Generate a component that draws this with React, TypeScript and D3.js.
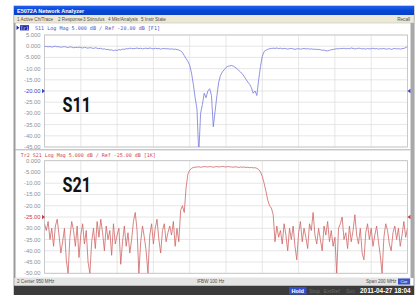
import React from "react";
import * as d3 from "d3";

// Sweep: 850 MHz .. 1050 MHz, 1 MHz per point
const START_MHZ = 850;
const STOP_MHZ = 1050;
const freqTicks = [850, 870, 890, 910, 930, 950, 970, 990, 1010, 1030, 1050];

const s11 = [
  -0.2, -0.1, -0.3, -0.1, -0.4, -0.2, 0.0, -0.3, -0.2, -0.5,
  -0.3, -0.2, -0.4, -0.6, -0.3, -0.4, -0.7, -0.5, -0.6, -0.4,
  -0.6, -0.8, -0.5, -0.7, -0.9, -0.6, -0.8, -1.0, -0.7, -0.9,
  -1.1, -0.9, -1.3, -1.2, -1.5, -1.4, -1.8, -1.6, -2.0, -1.7,
  -1.9, -1.5, -1.7, -1.3, -1.4, -1.1, -1.2, -0.9, -1.0, -1.1,
  -1.0, -0.8, -1.1, -0.9, -1.2, -1.0, -0.9, -1.1, -0.8, -1.0,
  -1.2, -0.9, -1.1, -1.0, -1.3, -1.1, -1.0, -1.2, -1.1, -1.3,
  -1.2, -1.4, -1.3, -1.5,
  -1.7, -2.1, -2.8, -4.2, -5.5, -6.8, -8.5, -12, -17, -23,
  -28, -48, -30, -26, -21, -23, -20, -19, -22, -36,
  -29, -22, -16, -13, -11.5, -10.5, -9.5, -9, -8.8, -8.6,
  -8.9, -9.4, -10, -10.8, -11.5, -12.4, -13.5, -14.8, -16, -17,
  -18.5, -21, -20, -22, -15, -9, -4.5, -2.4, -1.8, -1.4,
  -1.1, -1.0, -0.9, -1.0, -0.8, -1.1, -0.9, -1.2, -1.0, -1.1,
  -1.3, -1.1, -1.0, -1.2, -1.4, -1.2, -1.1, -1.3, -1.2, -1.0,
  -1.2, -1.1, -1.3, -1.2, -1.4, -1.3, -1.5, -1.4, -1.6, -1.8,
  -1.7, -2.0, -2.1, -1.8, -1.6, -1.4, -1.3, -1.1, -1.2, -1.0,
  -1.1, -0.9, -1.2, -1.0, -1.1, -0.8, -1.0, -1.2, -1.1, -0.9,
  -1.0, -1.2, -1.1, -1.3, -1.0, -1.2, -1.1, -0.9, -1.2, -1.0,
  -1.3, -1.1, -1.2, -1.0, -1.3, -1.2, -1.1, -1.4, -1.2, -1.0,
  -1.2, -1.1, -1.3, -1.1, -1.0, -0.6, -0.2,
];

const s21 = [
  -28, -31, -27, -35, -30, -38, -29, -26, -33, -41,
  -36, -30, -44, -50, -34, -27, -31, -38, -29, -43,
  -33, -28, -37, -31, -45, -50, -36, -30, -39, -27,
  -34, -26, -32, -40, -29, -35, -31, -42, -28, -37,
  -33, -30, -46, -36, -29, -38, -32, -41, -35, -27,
  -23, -31, -50, -36, -29, -34, -40, -50, -33, -28,
  -37, -30, -26, -35, -41, -31, -28, -36, -32, -29,
  -33, -27, -38, -30, -36, -22, -20, -23, -12, -6,
  -4.2, -3.4, -3.0, -2.9, -2.8, -2.7, -2.9, -2.8, -2.6, -2.7,
  -2.8, -2.6, -2.7, -2.9, -2.7, -2.6, -2.8, -2.7, -2.5, -2.7,
  -2.8, -2.6, -2.7, -2.8, -2.9, -2.7, -2.8, -3.0, -2.8, -2.9,
  -2.8, -3.0, -2.9, -3.1, -3.0, -3.2, -3.1, -3.4, -3.9, -5.0,
  -7, -10, -13.5, -17.5, -20, -21, -24, -36, -29, -34,
  -31, -37, -28, -33, -40, -30, -35, -29, -38, -44,
  -32, -27, -36, -30, -34, -39, -28, -31, -23, -33,
  -37, -30, -35, -40, -29, -33, -27, -36, -31, -38,
  -34, -50, -30, -28, -25, -35, -32, -39, -29, -36,
  -31, -24, -33, -37, -30, -41, -44, -32, -28, -35,
  -30, -38, -33, -29, -36, -42, -50, -34, -28, -31,
  -37, -40, -32, -29, -35, -30, -38, -33, -27, -34,
  -30,
];

const s11TickValues = [5, 0, -5, -10, -15, -20, -25, -30, -35, -40, -45];
const s11TickLabels = ["5.000", "0.000", "-5.000", "-10.00", "-15.00", "-20.00", "-25.00", "-30.00", "-35.00", "-40.00", "-45.00"];
const s21TickValues = [0, -5, -10, -15, -20, -25, -30, -35, -40, -45, -50];
const s21TickLabels = ["0.000", "-5.000", "-10.00", "-15.00", "-20.00", "-25.00", "-30.00", "-35.00", "-40.00", "-45.00", "-50.00"];

const S11_REF = -20;
const S21_REF = -25;

const menuItems = ["1 Active Ch/Trace", "2 Response", "3 Stimulus", "4 Mkr/Analysis", "5 Instr State"];

const W = 419;
const H = 295;
const PX0 = 44.5;
const PX1 = 407.5;

const S11_COLOR = "#767adb";
const S21_COLOR = "#cf6464";
const MONO = "'DejaVu Sans Mono', monospace";
const SANS = "'Liberation Sans', Arial, sans-serif";

export default function App() {
  const x = d3.scaleLinear().domain([START_MHZ, STOP_MHZ]).range([PX0, PX1]);
  const y1 = d3.scaleLinear().domain([-45, 5]).range([147, 35]);
  const y2 = d3.scaleLinear().domain([-50, 0]).range([273.3, 160.7]);

  const line1 = d3
    .line<number>()
    .x((_, i) => x(START_MHZ + i))
    .y((d) => y1(d));
  const line2 = d3
    .line<number>()
    .x((_, i) => x(START_MHZ + i))
    .y((d) => y2(d));

  const grid = (y: d3.ScaleLinear<number, number>, vals: number[]) => (
    <g>
      {vals.map((v) => (
        <line key={"h" + v} x1={PX0} x2={PX1} y1={y(v)} y2={y(v)} stroke="#e0e0e0" strokeWidth={0.8} />
      ))}
      {freqTicks.map((f) => (
        <line key={"v" + f} x1={x(f)} x2={x(f)} y1={y.range()[1]} y2={y.range()[0]} stroke="#e0e0e0" strokeWidth={0.8} />
      ))}
      <rect
        x={PX0}
        y={y.range()[1]}
        width={PX1 - PX0}
        height={y.range()[0] - y.range()[1]}
        fill="none"
        stroke="#c2c2c2"
        strokeWidth={0.8}
      />
    </g>
  );

  const ticks = (y: d3.ScaleLinear<number, number>, vals: number[], labels: string[], ref: number, refColor: string) => (
    <g>
      {vals.map((v, i) => (
        <text
          key={v}
          x={40.5}
          y={y(v) + 2}
          textAnchor="end"
          fontFamily={SANS}
          fontSize={5.8}
          fill={v === ref ? refColor : "#909090"}
        >
          {labels[i]}
        </text>
      ))}
      <path d={`M${PX0 - 2.5},${y(ref) - 2.2} L${PX0 + 0.5},${y(ref)} L${PX0 - 2.5},${y(ref) + 2.2} Z`} fill={refColor} />
      <path d={`M${PX1 + 3},${y(ref) - 2.2} L${PX1},${y(ref)} L${PX1 + 3},${y(ref) + 2.2} Z`} fill={refColor} />
    </g>
  );

  return (
    <svg width={W} height={H} style={{ position: "absolute", left: 0, top: 0 }} xmlns="http://www.w3.org/2000/svg">
      <defs>
        <linearGradient id="tb" x1="0" y1="0" x2="0" y2="1">
          <stop offset="0" stopColor="#1f5fe8" />
          <stop offset="0.5" stopColor="#0548d8" />
          <stop offset="1" stopColor="#0a3fc4" />
        </linearGradient>
        <clipPath id="c1">
          <rect x={PX0} y={35} width={PX1 - PX0} height={112} />
        </clipPath>
        <clipPath id="c2">
          <rect x={PX0} y={160.7} width={PX1 - PX0} height={112.6} />
        </clipPath>
      </defs>
      <rect x={0} y={0} width={W} height={H} fill="#ffffff" />
      {/* window */}
      <rect x={14} y={6} width={400} height={290} fill="#ffffff" stroke="#9a9a9a" strokeWidth={1} />
      <rect x={14} y={6} width={400} height={9} fill="url(#tb)" />
      <text x={17} y={12.6} fontFamily={SANS} fontSize={5.5} fontWeight="bold" fill="#ffffff">
        E5072A Network Analyzer
      </text>
      <rect x={14.5} y={15} width={399} height={8} fill="#ece9d8" />
      <line x1={14.5} x2={413.5} y1={23} y2={23} stroke="#c8c4b4" strokeWidth={0.6} />
      {menuItems.map((m, i) => (
        <text key={m} x={17 + [0, 41, 66, 91, 124][i]} y={20.8} fontFamily={SANS} fontSize={4.6} fill="#505050">
          {m}
        </text>
      ))}
      <text x={410} y={20.8} textAnchor="end" fontFamily={SANS} fontSize={4.6} fill="#505050">
        Recall
      </text>
      {/* right frame */}
      <rect x={410.5} y={23} width={3.5} height={255} fill="#a8a8a8" />
      <rect x={14} y={23} width={1.5} height={255} fill="#9a9a9a" />
      {/* panel separator */}
      <line x1={15} x2={410.5} y1={149.8} y2={149.8} stroke="#b0b0b0" strokeWidth={1} />

      {/* Trace 1 header */}
      <path d="M16.5,25.5 L19.5,27.8 L16.5,30.1 Z" fill="#2030b0" />
      <rect x={20} y={25.2} width={9} height={5.2} fill="#1c2aa8" />
      <text x={24.5} y={29.5} textAnchor="middle" fontFamily={MONO} fontSize={4.6} fill="#ffffff">
        Tr1
      </text>
      <text x={35} y={29.8} fontFamily={MONO} fontSize={5.2} fill="#4a54cc" textLength={125} lengthAdjust="spacingAndGlyphs">
        S11 Log Mag 5.000 dB / Ref -20.00 dB [F1]
      </text>

      {/* Trace 2 header */}
      <text x={20.7} y={156.5} fontFamily={MONO} fontSize={5.2} fill="#d04444" textLength={135} lengthAdjust="spacingAndGlyphs">
        Tr2 S21 Log Mag 5.000 dB / Ref -25.00 dB [1K]
      </text>

      {grid(y1, s11TickValues)}
      {grid(y2, s21TickValues)}
      {ticks(y1, s11TickValues, s11TickLabels, S11_REF, "#3a44c8")}
      {ticks(y2, s21TickValues, s21TickLabels, S21_REF, "#cc3b3b")}

      <g clipPath="url(#c1)">
        <path d={line1(s11) || ""} fill="none" stroke={S11_COLOR} strokeWidth={0.8} />
      </g>
      <g clipPath="url(#c2)">
        <path d={line2(s21) || ""} fill="none" stroke={S21_COLOR} strokeWidth={0.8} />
      </g>

      <text x={62.5} y={112} fontFamily="Roboto, sans-serif" fontWeight="bold" fontSize={21} fill="#111111" textLength={28.5} lengthAdjust="spacingAndGlyphs">
        S11
      </text>
      <text x={62.5} y={191.8} fontFamily="Roboto, sans-serif" fontWeight="bold" fontSize={21} fill="#111111" textLength={28.5} lengthAdjust="spacingAndGlyphs">
        S21
      </text>

      {/* status line */}
      <rect x={15} y={277.5} width={396} height={8} fill="#e4e4e4" />
      <text x={17} y={283.3} fontFamily={SANS} fontSize={4.6} fill="#505050">
        2  Center 950 MHz
      </text>
      <text x={197} y={283.3} fontFamily={SANS} fontSize={4.6} fill="#505050">
        IFBW 100 Hz
      </text>
      <text x={366} y={283.3} fontFamily={SANS} fontSize={4.6} fill="#505050">
        Span 200 MHz
      </text>
      <rect x={398} y={278.5} width={12} height={6} fill="#3c54c8" />
      <text x={404} y={283.2} textAnchor="middle" fontFamily={SANS} fontSize={4.4} fill="#ffffff">
        Cor
      </text>
      {/* bottom dark bar */}
      <rect x={14} y={285.7} width={400} height={10} fill="#3b3b3b" />
      <rect x={289} y={287} width={17.5} height={7.5} fill="#2f4fd0" />
      <text x={297.7} y={292.8} textAnchor="middle" fontFamily={SANS} fontSize={5.6} fontWeight="bold" fill="#ffffff">
        Hold
      </text>
      <text x={309} y={292.8} fontFamily={SANS} fontSize={5.4} fill="#6a6a6a">
        Stop
      </text>
      <text x={323.5} y={292.8} fontFamily={SANS} fontSize={5.4} fill="#6a6a6a">
        ExtRef
      </text>
      <text x={346} y={292.8} fontFamily={SANS} fontSize={5.4} fill="#6a6a6a">
        Svc
      </text>
      <text x={410.5} y={293} textAnchor="end" fontFamily={SANS} fontSize={6.4} fontWeight="bold" fill="#ffffff">
        2011-04-27 18:04
      </text>
    </svg>
  );
}
